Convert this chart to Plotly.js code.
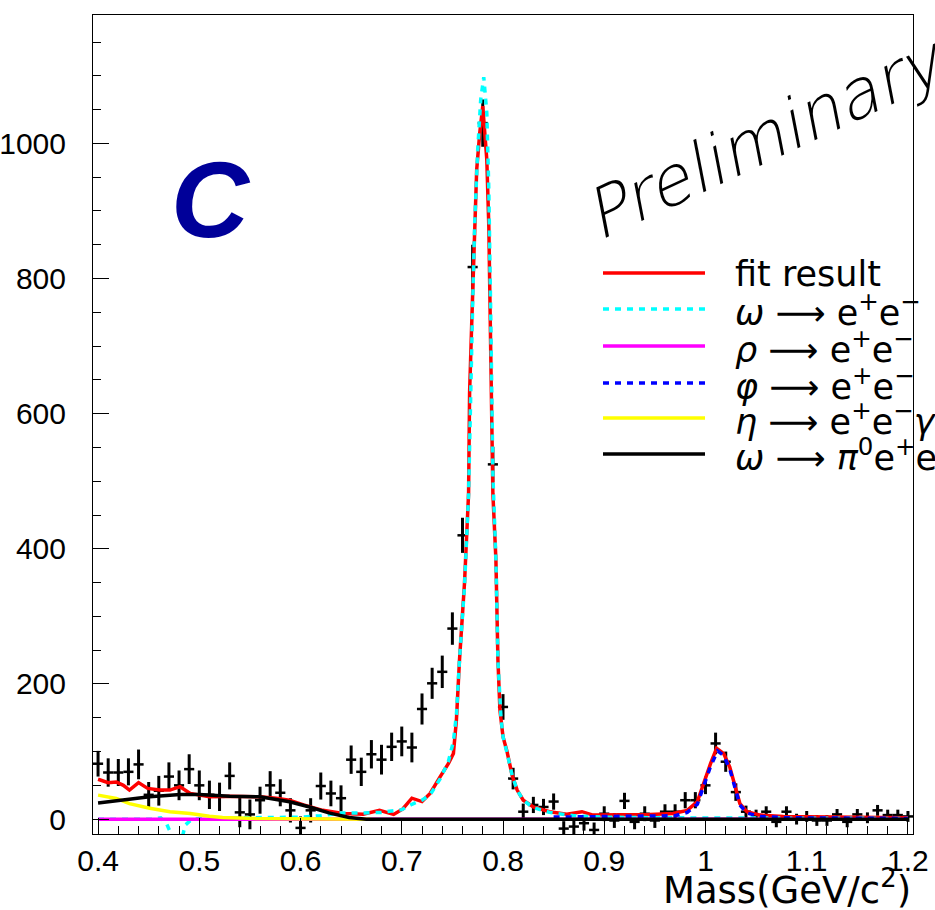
<!DOCTYPE html>
<html><head><meta charset="utf-8">
<script src="https://cdn.plot.ly/plotly-3.0.1.min.js"></script>
<style>body{margin:0;background:#fff}</style>
</head><body><div id="chart" style="width:935px;height:910px"></div>
<script>
// ---- data points (bin centres, counts, errors) ----
const massBins = [0.40,0.41,0.42,0.43,0.44,0.45,0.46,0.47,0.48,0.49,
  0.50,0.51,0.52,0.53,0.54,0.55,0.56,0.57,0.58,0.59,
  0.60,0.61,0.62,0.63,0.64,0.65,0.66,0.67,0.68,0.69,
  0.70,0.71,0.72,0.73,0.74,0.75,0.76,0.77,0.78,0.79,
  0.80,0.81,0.82,0.83,0.84,0.85,0.86,0.87,0.88,0.89,
  0.90,0.91,0.92,0.93,0.94,0.95,0.96,0.97,0.98,0.99,
  1.00,1.01,1.02,1.03,1.04,1.05,1.06,1.07,1.08,1.09,
  1.10,1.11,1.12,1.13,1.14,1.15,1.16,1.17,1.18,1.19,1.20];
const counts = [82,69,69,70,81,36,42,63,50,74,
  50,36,33,64,10,7,28,50,39,13,
  -13,13,49,38,31,88,70,96,88,107,
  115,106,163,201,218,282,420,817,1030,525,
  166,60,11,21,18,26,-14,-11,-6,-16,
  8,-2,27,-4,8,-2,11,11,28,28,
  50,112,85,40,11,6,11,-4,11,0,
  4,-2,-2,7,-4,7,2,13,6,6,4];
const countErr = [19,21,20,20,22,19,22,21,22,22,
  22,21,21,20,22,22,20,21,20,18,
  17,18,20,19,19,21,21,21,22,21,
  22,22,23,23,24,24,26,33,35,26,
  19,16,12,12,12,12,11,11,11,11,
  11,11,12,11,11,11,11,11,12,12,
  13,16,15,13,9,8,8,8,8,8,
  8,8,8,8,8,8,8,8,8,8,8];

// ---- fit result (total) ----
const fitX = [0.400,0.410,0.418,0.425,0.431,0.440,0.449,0.461,0.471,0.481,0.491,0.510,0.530,0.560,0.576,0.589,0.603,0.622,0.642,0.662,0.678,0.692,0.701,0.710,0.720,0.728,0.738,0.746,0.751,0.754,0.757,0.761,0.762,0.766,0.767,0.769,0.771,0.772,0.774,0.777,0.780,0.784,0.786,0.787,0.788,0.789,0.790,0.793,0.795,0.797,0.800,0.804,0.809,0.814,0.820,0.830,0.846,0.863,0.878,0.889,0.916,0.945,0.968,0.982,0.992,0.998,1.005,1.011,1.018,1.024,1.029,1.034,1.041,1.054,1.077,1.126,1.200];
const fitY = [59,54,55,50,43,54,45.5,43,43,48,38,33,34,33,31,28,21,13,8.4,7.4,13,7,15,31,26,38,63,82,97,147,235,334,350,482,631,729,828,902,961,1015,1055,976,877,778,680,581,482,384,235,161,122,100,65,43,28,18,11,7.4,11,6,6,7,8.4,13,26,53,82,105,97,77,48,23,11,6,4,3,2];

// ---- omega -> e+e- ----
const omegaX = [0.400,0.455,0.462,0.468,0.474,0.478,0.482,0.486,0.492,0.500,0.550,0.600,0.620,0.640,0.660,0.680,0.700,0.710,0.720,0.728,0.738,0.746,0.751,0.754,0.757,0.762,0.766,0.768,0.770,0.772,0.775,0.778,0.781,0.784,0.786,0.788,0.790,0.793,0.795,0.798,0.800,0.804,0.809,0.814,0.820,0.830,0.846,0.870,0.900,0.950,1.000,1.100,1.200];
const omegaY = [0,0,2,-8,-28,-40,-35,-9,-1,1,2,3,5,9,9,10,14,22,28,36,60,85,115,155,235,345,480,640,760,880,990,1065,1098,1045,930,735,510,384,235,150,122,98,65,43,28,17,10,5,3,2,2,1,1];

// ---- rho -> e+e- ----
const rhoX = [0.40,1.20];
const rhoY = [0,0];

// ---- phi -> e+e- ----
const phiX = [0.850,0.900,0.950,0.970,0.982,0.992,0.998,1.005,1.012,1.018,1.024,1.029,1.034,1.041,1.054,1.080,1.200];
const phiY = [3,4,4,5,10,22,48,78,101,94,74,46,21,9,4,2,1];

// ---- eta -> e+e-gamma ----
const etaX = [0.400,0.418,0.431,0.451,0.471,0.491,0.510,0.523,0.556,0.600,0.670];
const etaY = [35.5,30.6,23,16,11,8.4,4.4,2.5,1,0.5,0];

// ---- omega -> pi0 e+e- ----
const dalX = [0.400,0.425,0.451,0.481,0.500,0.530,0.560,0.589,0.609,0.628,0.648,0.665,1.200];
const dalY = [24,29,33,36.5,36.5,34,33,25.6,18,9.3,2.5,0,0];

// ---- legend ----
const legendLabels = ["fit result",
  "<i>ω</i> ⟶ e<sup>+</sup>e<sup>−</sup>",
  "<i>ρ</i> ⟶ e<sup>+</sup>e<sup>−</sup>",
  "<i>φ</i> ⟶ e<sup>+</sup>e<sup>−</sup>",
  "<i>η</i> ⟶ e<sup>+</sup>e<sup>−</sup><i>γ</i>",
  "<i>ω</i> ⟶ <i>π</i><sup>0</sup>e<sup>+</sup>e<sup>−</sup>"];
const legendColors = ["#ff0000","#00ffff","#ff00ff","#0000ff","#ffff00","#000000"];
const legendDash = ["solid","6px,6px","solid","6px,6px","solid","solid"];

const curveSets = [
  [fitX, fitY], [omegaX, omegaY], [rhoX, rhoY], [phiX, phiY], [etaX, etaY], [dalX, dalY]
];

const traces = [{
  x: massBins, y: counts, type: 'scatter', mode: 'markers',
  marker: {size: 0.1, color: '#000'},
  error_y: {type: 'data', array: countErr, visible: true, color: '#000', thickness: 3, width: 0},
  error_x: {type: 'constant', value: 0.005, visible: true, color: '#000', thickness: 2.5, width: 0},
  hoverinfo: 'skip'
}];
curveSets.forEach((c, k) => {
  traces.push({x: c[0], y: c[1], type: 'scatter', mode: 'lines',
    line: {color: legendColors[k], width: 3.5, dash: legendDash[k]}, hoverinfo: 'skip'});
});

// pixel helpers (paper coordinates of plot area 93..913 x 15..834)
const L = 93, R = 22, T = 15, B = 76, W = 935, H = 910;
const pw = W - L - R, ph = H - T - B;
const px = v => (v - L) / pw;
const py = v => (H - B - v) / ph;

const lightFam = '"DejaVu Sans Light", "DejaVu Sans ExtraLight", "DejaVu Sans"';
const rowsY = [273, 309, 346, 383, 418, 454];
const shapes = rowsY.map((yy, k) => ({
  type: 'line', xref: 'paper', yref: 'paper',
  x0: px(603), x1: px(705), y0: py(yy), y1: py(yy),
  line: {color: legendColors[k], width: 3.5, dash: legendDash[k]}
}));
const annotations = rowsY.map((yy, k) => ({
  xref: 'paper', yref: 'paper', x: px(733), y: py(yy + 1), xanchor: 'left', yanchor: 'middle',
  text: legendLabels[k], showarrow: false,
  font: {family: 'DejaVu Sans', size: 35, color: '#000'}
}));
annotations.push({
  xref: 'paper', yref: 'paper', x: px(211), y: py(200), xanchor: 'center', yanchor: 'middle',
  text: '<b><i>C</i></b>', showarrow: false,
  font: {family: 'Liberation Sans', size: 108, color: '#000099'}
});
annotations.push({
  xref: 'paper', yref: 'paper', x: px(765), y: py(137), xanchor: 'center', yanchor: 'middle',
  text: 'Preliminary', showarrow: false, textangle: -25,
  font: {family: lightFam, size: 68, color: '#000', style: 'italic', weight: 200}
});
annotations.push({
  xref: 'paper', yref: 'paper', x: 1, y: py(887), xanchor: 'right', yanchor: 'middle',
  text: 'Mass(GeV/c<sup>2</sup>)', showarrow: false,
  font: {family: 'DejaVu Sans', size: 37, color: '#000'}
});

const layout = {
  width: W, height: H,
  margin: {l: L, r: R, t: T, b: B, pad: 0},
  paper_bgcolor: '#fff', plot_bgcolor: '#fff',
  showlegend: false,
  xaxis: {
    range: [0.395, 1.205], tick0: 0.4, dtick: 0.1,
    ticks: 'inside', ticklen: 16, tickwidth: 1, tickcolor: '#000',
    minor: {dtick: 0.02, ticks: 'inside', ticklen: 8, tickwidth: 1, tickcolor: '#000', showgrid: false},
    showline: true, linecolor: '#000', linewidth: 1, mirror: true,
    showgrid: false, zeroline: false,
    tickfont: {family: 'Liberation Sans', size: 30, color: '#000'},
    ticklabelstandoff: 0
  },
  yaxis: {
    range: [-22, 1190], tick0: 0, dtick: 200,
    ticks: 'inside', ticklen: 16, tickwidth: 1, tickcolor: '#000',
    minor: {dtick: 50, ticks: 'inside', ticklen: 8, tickwidth: 1, tickcolor: '#000', showgrid: false},
    showline: true, linecolor: '#000', linewidth: 1, mirror: true,
    showgrid: false, zeroline: false,
    tickfont: {family: 'Liberation Sans', size: 30, color: '#000'},
    ticklabelstandoff: 20
  },
  shapes: shapes,
  annotations: annotations
};

Plotly.newPlot('chart', traces, layout, {displayModeBar: false, staticPlot: true});
</script>
</body></html>
